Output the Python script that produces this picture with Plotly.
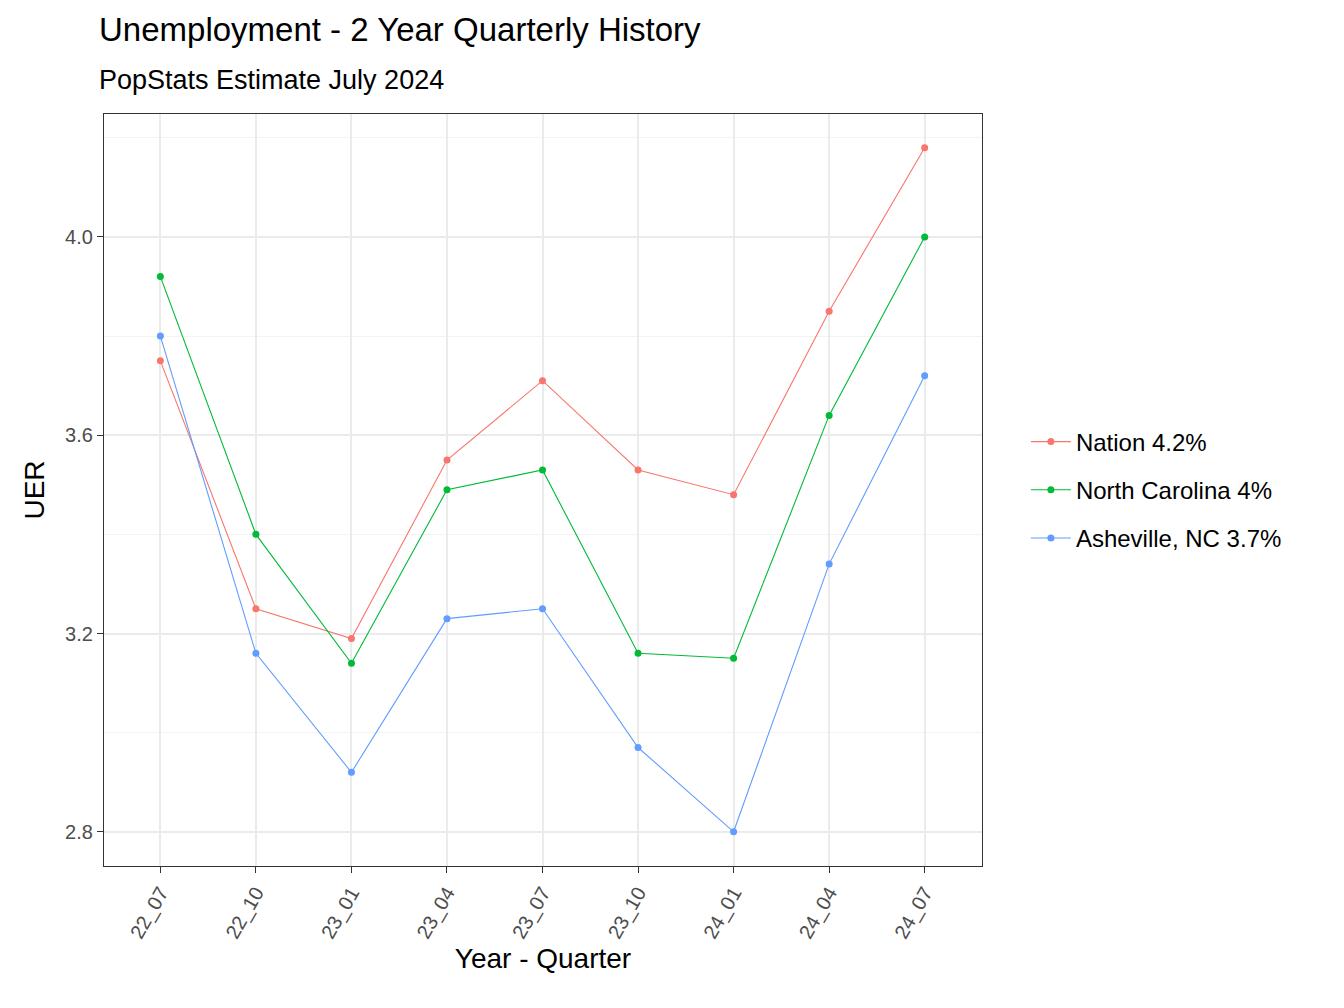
import plotly.graph_objects as go

quarters = ["22_07","22_10","23_01","23_04","23_07","23_10","24_01","24_04","24_07"]
nation = [3.75,3.25,3.19,3.55,3.71,3.53,3.48,3.85,4.18]
nc = [3.92,3.40,3.14,3.49,3.53,3.16,3.15,3.64,4.00]
avl = [3.80,3.16,2.92,3.23,3.25,2.97,2.80,3.34,3.72]
names = ["Nation 4.2%","North Carolina 4%","Asheville, NC 3.7%"]
colors = ["#F8766D","#00BA38","#619CFF"]

fig = go.Figure()
for n, y, c in zip(names, [nation, nc, avl], colors):
    fig.add_trace(go.Scatter(x=list(range(len(quarters))), y=y, name=n, mode="lines+markers",
                             legendgroup=n,
                             line=dict(color=c, width=1.1), marker=dict(color=c, size=7)))

fig.update_layout(
    width=1344, height=1008, plot_bgcolor="white", paper_bgcolor="white",
    margin=dict(l=96, r=370, t=106, b=150),
    font=dict(family="Liberation Sans, Arial", size=22, color="black"),
    legend=dict(x=1.05, y=0.5, yanchor="middle", font=dict(size=24), itemwidth=40,
                traceorder="grouped", tracegroupgap=14),
    annotations=[
        dict(text="Unemployment - 2 Year Quarterly History", xref="paper", yref="paper", x=-0.008, y=1,
             xanchor="left", yanchor="bottom", yshift=64, showarrow=False, font=dict(size=33)),
        dict(text="PopStats Estimate July 2024", xref="paper", yref="paper", x=-0.008, y=1,
             xanchor="left", yanchor="bottom", yshift=17, showarrow=False, font=dict(size=27)),
    ],
)
fig.update_xaxes(range=[-0.59, 8.6], tickvals=list(range(len(quarters))), ticktext=quarters,
                 tickangle=-60, tickfont=dict(size=20, color="#4D4D4D"), ticks="outside", ticklen=6,
                 tickcolor="#333", showgrid=True, gridcolor="#EBEBEB", gridwidth=2,
                 showline=True, linecolor="#333", mirror=True, linewidth=1.3, zeroline=False,
                 title=dict(text="Year - Quarter", font=dict(size=28), standoff=4))
fig.update_yaxes(range=[2.731, 4.248], tickvals=[2.8,3.2,3.6,4.0], ticktext=["2.8","3.2","3.6","4.0"],
                 tickfont=dict(size=20, color="#4D4D4D"), ticks="outside", ticklen=6, tickcolor="#333",
                 showgrid=True, gridcolor="#EBEBEB", gridwidth=2,
                 minor=dict(tickvals=[3.0,3.4,3.8,4.2], showgrid=True, gridcolor="#F3F3F3", gridwidth=1, ticks=""),
                 showline=True, linecolor="#333", mirror=True, linewidth=1.3, zeroline=False,
                 title=dict(text="UER", font=dict(size=28), standoff=12))
fig.write_html("out.html")
